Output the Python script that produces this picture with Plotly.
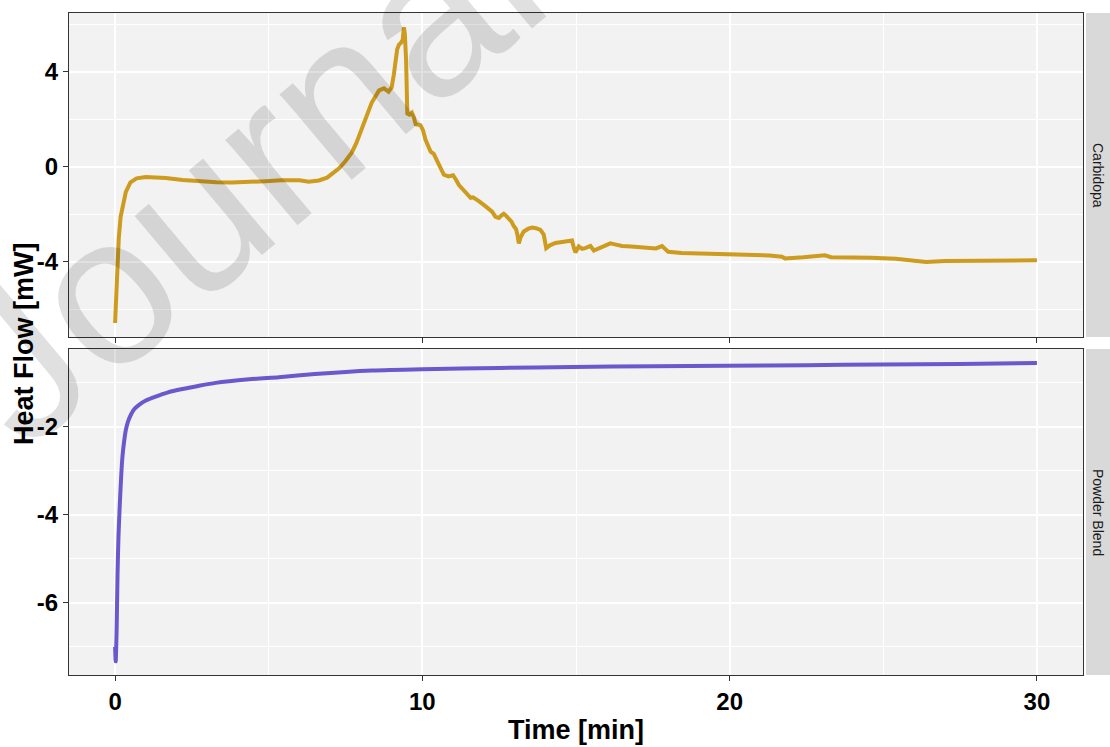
import plotly.graph_objects as go

# ---------------- data ----------------
carb_time = [0, 0.03, 0.07, 0.12, 0.18, 0.25, 0.35, 0.5, 0.7, 1.0,
             1.3, 1.65, 2.2, 2.75, 3.3, 3.8, 4.4, 4.9, 5.4, 5.7,
             6.0, 6.3, 6.63, 6.9, 7.1, 7.3, 7.5, 7.7, 7.85, 8.0,
             8.15, 8.35, 8.59, 8.75, 8.9, 9.0, 9.07, 9.13, 9.18, 9.24,
             9.3, 9.36, 9.4, 9.43, 9.47, 9.51, 9.58, 9.66, 9.72, 9.78,
             9.86, 9.94, 10.02, 10.1, 10.2, 10.27, 10.37, 10.5, 10.7, 10.85,
             11.0, 11.1, 11.19, 11.3, 11.4, 11.5, 11.57, 11.65, 11.73, 11.85,
             12.05, 12.15, 12.27, 12.38, 12.49, 12.57, 12.65, 12.72, 12.8, 12.9,
             12.98, 13.05, 13.1, 13.14, 13.2, 13.3, 13.45, 13.57, 13.7, 13.84,
             13.95, 14.03, 14.15, 14.33, 14.6, 14.87, 14.93, 14.98, 15.09, 15.2,
             15.3, 15.4, 15.47, 15.58, 15.8, 16.12, 16.3, 16.5, 16.8, 17.1,
             17.37, 17.6, 17.8, 17.9, 18.0, 18.44, 19.0, 19.8, 20.6, 21.3,
             21.7, 21.8, 22.4, 23.1, 23.3, 24.0, 24.6, 25.4, 26.2, 26.4,
             27.0, 28.0, 29.0, 30.0]
carb_flow = [-6.57, -5.6, -4.2, -3.0, -2.1, -1.6, -1.05, -0.65, -0.48, -0.42,
             -0.43, -0.47, -0.55, -0.62, -0.65, -0.66, -0.64, -0.6, -0.56, -0.54,
             -0.56, -0.62, -0.57, -0.45, -0.25, -0.05, 0.25, 0.6, 1.0, 1.5,
             2.05, 2.7, 3.22, 3.31, 3.17, 3.35, 3.87, 4.6, 4.95, 5.15,
             5.22, 5.35, 5.88, 5.6, 4.5, 2.25, 2.2, 2.28, 2.1, 1.8,
             1.78, 1.75, 1.55, 1.15, 0.85, 0.64, 0.55, 0.2, -0.33, -0.4,
             -0.35, -0.55, -0.76, -0.92, -1.05, -1.15, -1.3, -1.28, -1.33, -1.45,
             -1.65, -1.75, -1.88, -2.1, -2.15, -2.05, -1.97, -2.05, -2.15, -2.3,
             -2.5, -2.62, -2.9, -3.22, -2.95, -2.72, -2.6, -2.55, -2.58, -2.65,
             -2.85, -3.42, -3.3, -3.2, -3.15, -3.1, -3.4, -3.6, -3.35, -3.45,
             -3.42, -3.38, -3.33, -3.52, -3.4, -3.22, -3.27, -3.33, -3.35, -3.38,
             -3.42, -3.43, -3.33, -3.45, -3.57, -3.62, -3.64, -3.68, -3.7, -3.73,
             -3.78, -3.85, -3.8, -3.72, -3.8, -3.8, -3.82, -3.87, -3.95, -4.0,
             -3.96, -3.95, -3.94, -3.93]

blend_time = [0, 0.02, 0.05, 0.08, 0.11, 0.15, 0.2, 0.24, 0.3, 0.35,
              0.42, 0.51, 0.62, 0.78, 1.0, 1.32, 1.7, 2.19, 2.7, 3.27,
              4.36, 5.33, 6.5, 8.37, 10.0, 12.5, 14.9, 17.5, 19.9, 22.5,
              24.9, 27.5, 30.0]
blend_flow = [-7.0, -7.33, -6.6, -5.32, -4.5, -3.81, -3.1, -2.67, -2.3, -2.07,
              -1.88, -1.73, -1.6, -1.5, -1.4, -1.31, -1.22, -1.14, -1.07, -1.0,
              -0.92, -0.87, -0.8, -0.72, -0.69, -0.66, -0.64, -0.62, -0.61, -0.6,
              -0.58, -0.57, -0.55]

panel_labels = ["Carbidopa", "Powder Blend"]
x_ticks = [0, 10, 20, 30]
x_ticktext = ["0", "10", "20", "30"]
top_ticks = [-4, 0, 4]
top_ticktext = ["-4", "0", "4"]
bottom_ticks = [-6, -4, -2]
bottom_ticktext = ["-6", "-4", "-2"]

# ---------------- figure ----------------
W, H = 1110, 747
ML, MR, MT, MB = 69, 27, 13, 72
PW, PH = W - ML - MR, H - MT - MB
top_dom = [(H - MB - 337) / PH, 1.0]
bot_dom = [0.0, (H - MB - 349) / PH]
FONT = "Liberation Sans, Arial, Helvetica, sans-serif"

fig = go.Figure()
fig.add_trace(go.Scatter(x=carb_time, y=carb_flow, mode="lines", xaxis="x2", yaxis="y2",
                         line=dict(color="#CD9B1D", width=4), showlegend=False))
fig.add_trace(go.Scatter(x=blend_time, y=blend_flow, mode="lines", xaxis="x", yaxis="y",
                         line=dict(color="#6959CD", width=4, shape="spline", smoothing=0.6),
                         showlegend=False))

tickfont = dict(family=FONT, size=24, color="black", weight="bold")
grid = dict(showgrid=True, gridcolor="white", gridwidth=1.6,
            showline=True, mirror=True, linecolor="#333333", linewidth=1.2,
            ticks="outside", ticklen=5, tickwidth=1.2, tickcolor="#333333",
            zeroline=False, tickfont=tickfont)

xcommon = dict(range=[-1.5, 31.5], tickvals=x_ticks, ticktext=x_ticktext,
               minor=dict(showgrid=True, gridcolor="white", gridwidth=0.8, dtick=5, tick0=0), **grid)

fig.update_layout(
    width=W, height=H, autosize=False,
    margin=dict(l=ML, r=MR, t=MT, b=MB, pad=0),
    paper_bgcolor="white", plot_bgcolor="#F2F2F2",
    xaxis=dict(anchor="y", domain=[0, 1], **xcommon),
    xaxis2=dict(anchor="y2", domain=[0, 1], matches="x", showticklabels=False, **xcommon),
    yaxis=dict(anchor="x", domain=bot_dom, range=[-7.64, -0.23], tickvals=bottom_ticks,
               ticktext=bottom_ticktext,
               minor=dict(showgrid=True, gridcolor="white", gridwidth=0.8, dtick=1, tick0=0), **grid),
    yaxis2=dict(anchor="x2", domain=top_dom, range=[-7.16, 6.48], tickvals=top_ticks,
                ticktext=top_ticktext,
                minor=dict(showgrid=True, gridcolor="white", gridwidth=0.8, dtick=2, tick0=0), **grid),
)

# strips
sx0 = (1086 - ML) / PW
sx1 = (1110 - ML) / PW
for dom, lab in [(top_dom, panel_labels[0]), (bot_dom, panel_labels[1])]:
    fig.add_shape(type="rect", xref="paper", yref="paper", x0=sx0, x1=sx1, y0=dom[0], y1=dom[1],
                  fillcolor="#D9D9D9", line=dict(width=0), layer="below")
    fig.add_annotation(xref="paper", yref="paper", x=(sx0 + sx1) / 2, y=(dom[0] + dom[1]) / 2,
                       text=lab, textangle=90, showarrow=False, xanchor="center", yanchor="middle",
                       font=dict(family=FONT, size=14, color="#1A1A1A"))

# axis titles
fig.add_annotation(xref="paper", yref="paper", x=(576 - ML) / PW, y=(H - MB - 730) / PH,
                   text="Time [min]", showarrow=False, xanchor="center", yanchor="middle",
                   font=dict(family=FONT, size=27, color="black", weight="bold"))
fig.add_annotation(xref="paper", yref="paper", x=(24 - ML) / PW, y=(H - MB - 344) / PH,
                   text="Heat Flow [mW]", textangle=-90, showarrow=False, xanchor="center", yanchor="middle",
                   font=dict(family=FONT, size=27, color="black", weight="bold"))

# watermark
fig.add_annotation(xref="paper", yref="paper", x=(605 - ML) / PW, y=(H - MB + 128) / PH,
                   text="Journal Pre-proof", textangle=-40, showarrow=False,
                   xanchor="center", yanchor="middle",
                   font=dict(family=FONT, size=212, color="rgba(0,0,0,0.12)"))

fig.write_html("out.html", config={"displayModeBar": False},
               post_script="document.body.style.margin='0px';document.body.style.padding='0px';"
                           "document.body.style.overflow='hidden';")
